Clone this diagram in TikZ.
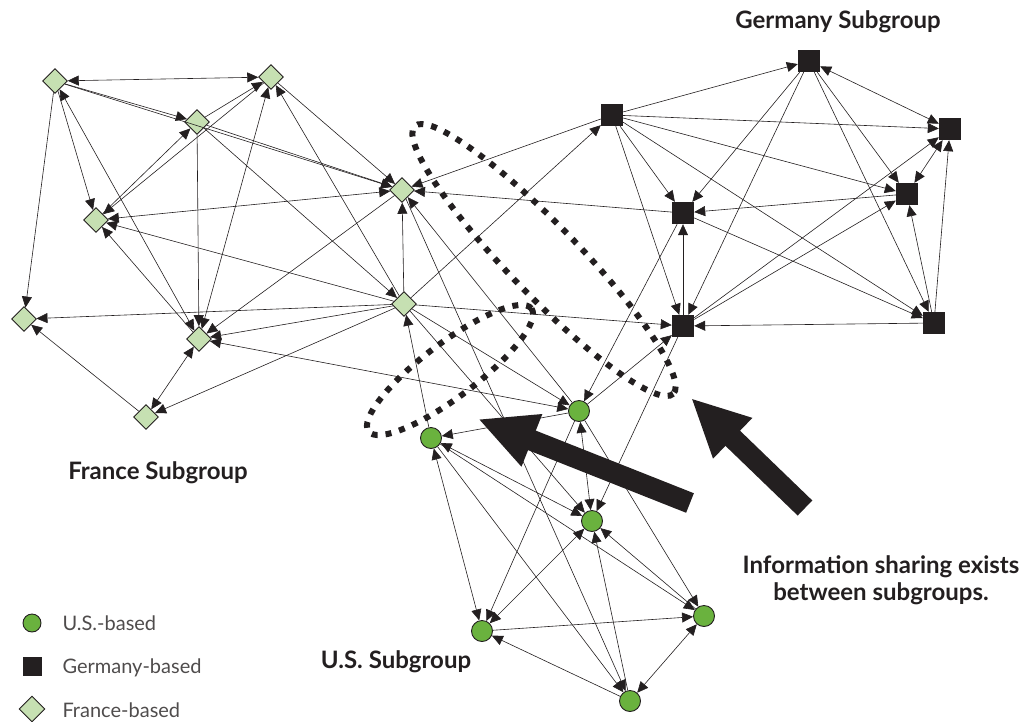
\documentclass[tikz,border=0pt]{standalone}
\usepackage{fontspec}
\setmainfont{Lato}
\usetikzlibrary{arrows.meta,shapes.geometric}
\definecolor{usgreen}{RGB}{106,178,62}
\definecolor{frgreen}{RGB}{198,224,178}
\definecolor{ink}{RGB}{35,31,32}
\tikzset{
  usbox/.style={circle, draw=ink, fill=usgreen, line width=0.9pt, minimum size=21pt, inner sep=0pt},
  debox/.style={rectangle, fill=ink, minimum size=22pt, inner sep=0pt},
  frbox/.style={diamond, draw=ink, fill=frgreen, line width=0.9pt, minimum size=25pt, inner sep=0pt},
  link/.style={draw=ink, line width=0.6pt, -{Triangle[length=11pt,width=10pt]}},
  twolink/.style={draw=ink, line width=0.6pt, {Triangle[length=11pt,width=10pt]}-{Triangle[length=11pt,width=10pt]}},
  ring/.style={draw=ink, line width=6pt, dash pattern=on 6pt off 8pt},
  bigarrow/.style={draw=ink, line width=21pt, -{Triangle[length=58pt,width=52pt]}},
  grouplabel/.style={font=\bfseries\fontsize{24}{27}\selectfont, text=ink, anchor=base},
  keytext/.style={font=\fontsize{20}{24}\selectfont, text=ink!80, anchor=base west},
}
\begin{document}
\begin{tikzpicture}[x=1pt,y=-1pt]
\useasboundingbox (0,0) rectangle (1021,721);
% France
\node[frbox] (fr1) at (55,81) {};
\node[frbox] (fr2) at (271,77) {};
\node[frbox] (fr3) at (197,122) {};
\node[frbox] (fr4) at (402,190) {};
\node[frbox] (fr5) at (96,220) {};
\node[frbox] (fr6) at (404,304) {};
\node[frbox] (fr7) at (24,319) {};
\node[frbox] (fr8) at (199,339) {};
\node[frbox] (fr9) at (146,417) {};
% Germany
\node[debox] (de1) at (809,61) {};
\node[debox] (de2) at (612,115) {};
\node[debox] (de3) at (950,129) {};
\node[debox] (de4) at (907,194) {};
\node[debox] (de5) at (683,213) {};
\node[debox] (de6) at (683,326) {};
\node[debox] (de7) at (934,323) {};
% U.S.
\node[usbox] (us1) at (579,411) {};
\node[usbox] (us2) at (431,438) {};
\node[usbox] (us3) at (592,521) {};
\node[usbox] (us4) at (482,631) {};
\node[usbox] (us5) at (704,616) {};
\node[usbox] (us6) at (630,701) {};
% links inside France
\draw[twolink] (fr1) -- (fr2);
\draw[link] (fr1) -- (fr3);
\draw[link] (fr1) -- (fr4);
\draw[link] (fr3) -- (fr4);
\draw[link] (fr1) -- (fr5);
\draw[twolink] (fr1) -- (fr8);
\draw[link] (fr1) -- (fr7);
\draw[link] (fr3) -- (fr2);
\draw[link] (fr5) -- (fr3);
\draw[link] (fr2) -- (fr5);
\draw[twolink] (fr2) -- (fr8);
\draw[link] (fr2) -- (fr4);
\draw[link] (fr6) -- (fr2);
\draw[link] (fr3) -- (fr8);
\draw[link] (fr3) -- (fr6);
\draw[twolink] (fr5) -- (fr4);
\draw[link] (fr6) -- (fr5);
\draw[link] (fr8) -- (fr5);
\draw[link] (fr6) -- (fr7);
\draw[link] (fr9) -- (fr7);
\draw[twolink] (fr9) -- (fr8);
\draw[link] (fr6) -- (fr9);
\draw[link] (fr4) -- (fr8);
\draw[link] (fr6) -- (fr8);
\draw[link] (fr6) -- (fr4);
% links inside Germany
\draw[link] (de2) -- (de1);
\draw[link] (de1) -- (de5);
\draw[twolink] (de1) -- (de3);
\draw[link] (de1) -- (de4);
\draw[link] (de1) -- (de7);
\draw[link] (de1) -- (de6);
\draw[link] (de2) -- (de3);
\draw[link] (de2) -- (de4);
\draw[link] (de2) -- (de5);
\draw[link] (de2) -- (de6);
\draw[link] (de2) -- (de7);
\draw[twolink] (de3) -- (de4);
\draw[link] (de7) -- (de3);
\draw[link] (de7) -- (de4);
\draw[link] (de4) -- (de5);
\draw[link] (de6) -- (de4);
\draw[link] (de6) -- (de3);
\draw[link] (de7) -- (de6);
\draw[link] (de6) -- (de5);
\draw[link] (de5) -- (de7);
% links inside U.S.
\draw[link] (us1) -- (us2);
\draw[twolink] (us1) -- (us3);
\draw[link] (us1) -- (us4);
\draw[link] (us1) -- (us5);
\draw[twolink] (us2) -- (us3);
\draw[link] (us2) -- (us5);
\draw[link] (us2) -- (us6);
\draw[twolink] (us2) -- (us4);
\draw[twolink] (us4) -- (us3);
\draw[link] (us4) -- (us5);
\draw[link] (us6) -- (us4);
\draw[twolink] (us5) -- (us6);
\draw[link] (us6) -- (us3);
\draw[link] (us5) -- (us3);
% links between subgroups
\draw[link] (de2) -- (fr4);
\draw[link] (de5) -- (fr4);
\draw[link] (fr6) -- (de2);
\draw[link] (fr6) -- (de6);
\draw[link] (fr6) -- (us1);
\draw[link] (fr6) -- (us3);
\draw[link] (us2) -- (fr6);
\draw[twolink] (us1) -- (fr8);
\draw[link] (us1) -- (fr4);
\draw[link] (fr4) -- (us6);
\draw[link] (de5) -- (us1);
\draw[link] (us1) -- (de6);
\draw[link] (de6) -- (us3);
% rings round the shared links
\draw[ring] (544,260) ellipse [x radius=186, y radius=35, rotate=-46];
\draw[ring] (450,370) ellipse [x radius=102, y radius=27, rotate=37];
% big arrows
\coordinate (tailA) at (690,503);
\coordinate (tipA) at (478,419);
\coordinate (tailB) at (805,508);
\coordinate (tipB) at (691,398);
\draw[bigarrow] (tailA) -- (tipA);
\draw[bigarrow] (tailB) -- (tipB);
% labels
\node[grouplabel] (delabel) at (838,28) {Germany Subgroup};
\node[grouplabel] (frlabel) at (158,479) {France Subgroup};
\node[grouplabel] (uslabel) at (396,668) {U.S. Subgroup};
\node[grouplabel, align=center, anchor=north] (note) at (881,552) {Information sharing exists\\between subgroups.};
% key
\node[usbox, minimum size=18pt] (keyus) at (32,623) {};
\node[debox, minimum size=19pt] (keyde) at (32,666) {};
\node[frbox, minimum size=26pt] (keyfr) at (32,709) {};
\node[keytext] (keyustext) at (59,630) {U.S.-based};
\node[keytext] (keydetext) at (59,673) {Germany-based};
\node[keytext] (keyfrtext) at (59,717) {France-based};
\end{tikzpicture}
\end{document}
